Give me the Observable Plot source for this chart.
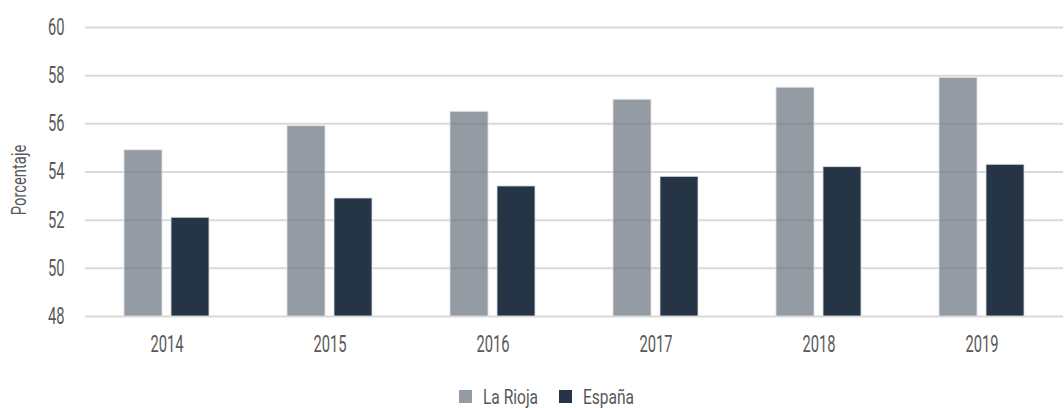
<!DOCTYPE html>
<html>
<head>
<meta charset="utf-8">
<script src="https://cdn.jsdelivr.net/npm/d3@7"></script>
<script src="https://cdn.jsdelivr.net/npm/@observablehq/plot@0.6"></script>
<style>
  html, body { margin: 0; padding: 0; background: #fff; }
  #chart { width: 1064px; }
  .legend-wrap { display: flex; justify-content: center; padding-left: 50px; margin-top: 10px; }
  .cond { display: inline-block; transform-origin: left center; }
</style>
</head>
<body>
<div id="chart"></div>
<script>
const years = ["2014", "2015", "2016", "2017", "2018", "2019"];
const series = ["La Rioja", "España"];
const laRioja = [54.9, 55.9, 56.5, 57.0, 57.5, 57.9];
const espana = [52.1, 52.9, 53.4, 53.8, 54.2, 54.3];
const yTicks = [48, 50, 52, 54, 56, 58, 60];
const colors = ["#949ba2", "#253545"];

const data = years.flatMap((y, i) => [
  {year: y, serie: series[0], value: laRioja[i]},
  {year: y, serie: series[1], value: espana[i]}
]);
const base = yTicks[0];
const font = "Roboto, 'Liberation Sans', sans-serif";
const textColor = "#595959";

const chart = Plot.plot({
  width: 1064,
  height: 370,
  marginLeft: 84,
  marginRight: 0,
  marginTop: 27,
  marginBottom: 54,
  style: {fontFamily: font, fontSize: "23px", color: textColor, background: "#fff"},
  fx: {domain: years, padding: 0, label: null, axis: "bottom", tickSize: 0, tickPadding: 19},
  x: {domain: series, axis: null, paddingInner: 0.2, paddingOuter: 0.8},
  y: {domain: [yTicks[0], yTicks[yTicks.length - 1]], ticks: yTicks, tickSize: 0, tickPadding: 21,
      label: "Porcentaje", labelArrow: "none", labelAnchor: "center", labelOffset: 74},
  marks: [
    Plot.ruleY(yTicks, {stroke: "#d9d9d9", strokeWidth: 2}),
    Plot.barY(data.filter(d => d.serie === series[0]), {fx: "year", x: "serie", y1: base, y2: "value", fill: "#6b7580", fillOpacity: 0.72, stroke: "#dfe2e5", strokeWidth: 0.8}),
    Plot.barY(data.filter(d => d.serie === series[1]), {fx: "year", x: "serie", y1: base, y2: "value", fill: colors[1], stroke: "#dfe2e5", strokeWidth: 0.8})
  ]
});
document.getElementById("chart").appendChild(chart);

// Emulate the condensed typeface of the original by narrowing each text horizontally around its anchor.
chart.querySelectorAll("text").forEach(t => {
  const isLabel = t.textContent.trim() === "Porcentaje";
  const s = isLabel ? 0.74 : 0.64;
  if (isLabel) t.style.fontSize = "20px";
  const bb = t.getBBox();
  const anchor = getComputedStyle(t).textAnchor;
  const ax = anchor === "middle" ? bb.x + bb.width / 2 : anchor === "end" ? bb.x + bb.width : bb.x;
  const tr = t.getAttribute("transform") || "";
  const shift = isLabel ? " translate(-8,0)" : "";
  t.setAttribute("transform", `${tr}${shift} translate(${ax},0) scale(${s},1) translate(${-ax},0)`);
});

const legend = Plot.legend({
  color: {domain: series, range: colors},
  swatchSize: 13,
  style: {fontFamily: font, fontSize: "21px", color: textColor, marginLeft: "0px"}
});
const wrap = document.createElement("div");
wrap.className = "legend-wrap";
wrap.appendChild(legend);
document.getElementById("chart").appendChild(wrap);

// Narrow legend texts the same way.
const walker = document.createTreeWalker(legend, NodeFilter.SHOW_TEXT);
const nodes = [];
while (walker.nextNode()) if (series.includes(walker.currentNode.textContent.trim())) nodes.push(walker.currentNode);
nodes.forEach(n => {
  const span = document.createElement("span");
  span.className = "cond";
  n.parentNode.insertBefore(span, n);
  span.appendChild(n);
  const w = span.getBoundingClientRect().width;
  const s = 0.74;
  span.style.transform = `scaleX(${s})`;
  span.style.marginRight = `${-w * (1 - s)}px`;
});
</script>
</body>
</html>
